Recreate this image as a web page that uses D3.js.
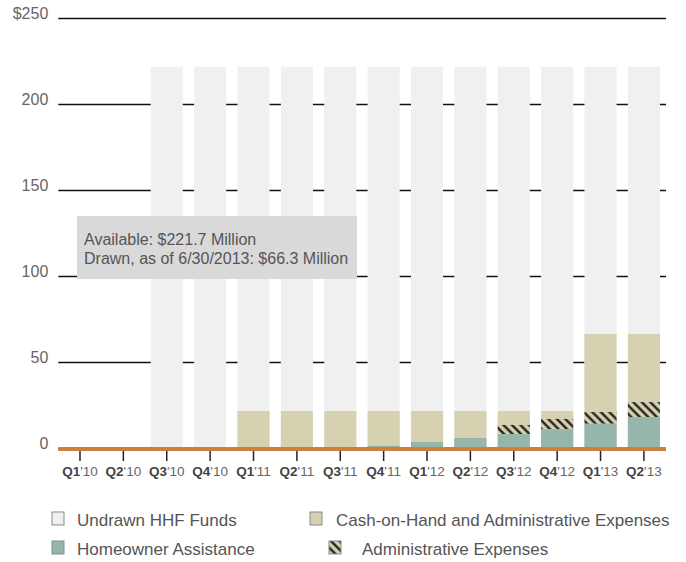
<!DOCTYPE html>
<html>
<head>
<meta charset="utf-8">
<script src="https://cdn.jsdelivr.net/npm/d3@7"></script>
<style>
  body { margin: 0; background: #fff; }
  text { font-family: "Liberation Sans", Arial, sans-serif; }
</style>
</head>
<body>
<div id="chart-area"></div>
<script>
// Data (millions of dollars)
const quarters = ["Q1'10","Q2'10","Q3'10","Q4'10","Q1'11","Q2'11","Q3'11","Q4'11","Q1'12","Q2'12","Q3'12","Q4'12","Q1'13","Q2'13"];
const available = [0, 0, 221.7, 221.7, 221.7, 221.7, 221.7, 221.7, 221.7, 221.7, 221.7, 221.7, 221.7, 221.7];
const drawn     = [0, 0, 0, 0, 21.5, 21.5, 21.5, 21.5, 21.5, 21.5, 21.5, 21.5, 66.3, 66.3];
const homeowner = [0, 0, 0, 0, 0, 0, 0, 1.3, 3.5, 5.8, 8.1, 11.0, 14.1, 18.0];
const adminExp  = [0, 0, 0, 0, 0, 0, 0, 0, 0, 0, 5.3, 5.9, 6.8, 8.7];
const yTicks = [0, 50, 100, 150, 200, 250];
const legendLabels = ["Undrawn HHF Funds", "Cash-on-Hand and Administrative Expenses", "Homeowner Assistance", "Administrative Expenses"];
const noteLines = ["Available: $221.7 Million", "Drawn, as of 6/30/2013: $66.3 Million"];

const colors = { undrawn: "#f0f0f0", cash: "#d6d1b1", home: "#96b6ac", axis: "#c8823a", text: "#666" };

const svg = d3.select("#chart-area").append("svg")
    .attr("width", 686)
    .attr("height", 562);

// hatch for admin expenses
const defs = svg.append("defs");
const pat = defs.append("pattern")
    .attr("id", "hatch")
    .attr("patternUnits", "userSpaceOnUse")
    .attr("width", 6)
    .attr("height", 6)
    .attr("patternTransform", "rotate(-45)");
pat.append("rect").attr("width", 6).attr("height", 6).attr("fill", colors.cash);
pat.append("line")
    .attr("x1", 1.5).attr("y1", 0).attr("x2", 1.5).attr("y2", 6)
    .attr("stroke", "#111").attr("stroke-width", 2.2);

// Scales
const x = d3.scaleBand()
    .domain(quarters)
    .range([58.3, 665.6])
    .paddingInner(0.26)
    .paddingOuter(0.13);
const y = d3.scaleLinear()
    .domain([0, 250])
    .range([448, 18]);

// Y gridlines + labels
const yAxis = svg.append("g")
    .attr("transform", "translate(58.3,0)")
    .call(d3.axisLeft(y)
        .tickValues(yTicks)
        .tickSize(-607.7)
        .tickPadding(10)
        .tickFormat(d => d === 250 ? "$250" : d));
yAxis.select(".domain").remove();
yAxis.selectAll(".tick line").attr("stroke", "#111").attr("stroke-width", 1.3);
yAxis.selectAll(".tick text")
    .attr("fill", colors.text)
    .attr("font-size", "16px")
    .attr("dy", "0")
    .attr("y", 0.5);

const data = quarters.map((q, i) => ({
    q: q, avail: available[i], drawn: drawn[i], home: homeowner[i], admin: adminExp[i]
}));

const bars = svg.append("g");
bars.selectAll(".undrawn").data(data.filter(d => d.avail > 0)).enter().append("rect")
    .attr("x", d => x(d.q)).attr("width", x.bandwidth())
    .attr("y", d => y(d.avail)).attr("height", d => y(0) - y(d.avail))
    .attr("fill", colors.undrawn);
bars.selectAll(".cash").data(data.filter(d => d.drawn > 0)).enter().append("rect")
    .attr("x", d => x(d.q)).attr("width", x.bandwidth())
    .attr("y", d => y(d.drawn)).attr("height", d => y(0) - y(d.drawn))
    .attr("fill", colors.cash);
bars.selectAll(".admin").data(data.filter(d => d.admin > 0)).enter().append("rect")
    .attr("x", d => x(d.q)).attr("width", x.bandwidth())
    .attr("y", d => y(d.home + d.admin)).attr("height", d => y(d.home) - y(d.home + d.admin))
    .attr("fill", "url(#hatch)");
bars.selectAll(".home").data(data.filter(d => d.home > 0)).enter().append("rect")
    .attr("x", d => x(d.q)).attr("width", x.bandwidth())
    .attr("y", d => y(d.home)).attr("height", d => y(0) - y(d.home))
    .attr("fill", colors.home);

// X axis ticks and labels
const xAxis = svg.append("g")
    .attr("transform", "translate(0,451)")
    .call(d3.axisBottom(x).tickSize(10).tickPadding(5).tickFormat(""));
xAxis.select(".domain").remove();
xAxis.selectAll(".tick line").attr("stroke", "#222").attr("stroke-width", 1.5);
xAxis.selectAll(".tick").append("text")
    .attr("y", 25)
    .attr("text-anchor", "middle")
    .attr("fill", "#555")
    .attr("font-size", "13.5px")
    .each(function(d) {
        const t = d3.select(this);
        t.append("tspan").attr("font-weight", "bold").attr("fill", "#444").text(d.slice(0, 2));
        t.append("tspan").attr("fill", "#666").text(d.slice(2));
    });

// orange baseline
svg.append("line")
    .attr("x1", 58.3).attr("x2", 666)
    .attr("y1", y(0) + 1).attr("y2", y(0) + 1)
    .attr("stroke", colors.axis).attr("stroke-width", 4);

// Note box
const note = svg.append("g");
note.append("rect")
    .attr("x", 77).attr("y", 216).attr("width", 280).attr("height", 63)
    .attr("fill", "#d9d9d9");
note.selectAll("text").data(noteLines).enter().append("text")
    .attr("x", 84)
    .attr("y", (d, i) => 245 + i * 19)
    .attr("fill", "#555")
    .attr("font-size", "16px")
    .text(d => d);

// Legend
const legendFills = [colors.undrawn, colors.cash, colors.home, "url(#hatch)"];
const legendPos = [[52, 512, 77], [310, 512, 336], [52, 541, 77], [329, 541, 362]];
const legend = svg.append("g");
legendLabels.forEach((label, i) => {
    const p = legendPos[i];
    legend.append("rect")
        .attr("x", p[0]).attr("y", p[1]).attr("width", 12).attr("height", 13)
        .attr("fill", legendFills[i])
        .attr("stroke", "#8c8c8c").attr("stroke-width", 1);
    legend.append("text")
        .attr("x", p[2]).attr("y", p[1] + 14)
        .attr("fill", "#555")
        .attr("font-size", "17px")
        .text(label);
});
</script>
</body>
</html>
